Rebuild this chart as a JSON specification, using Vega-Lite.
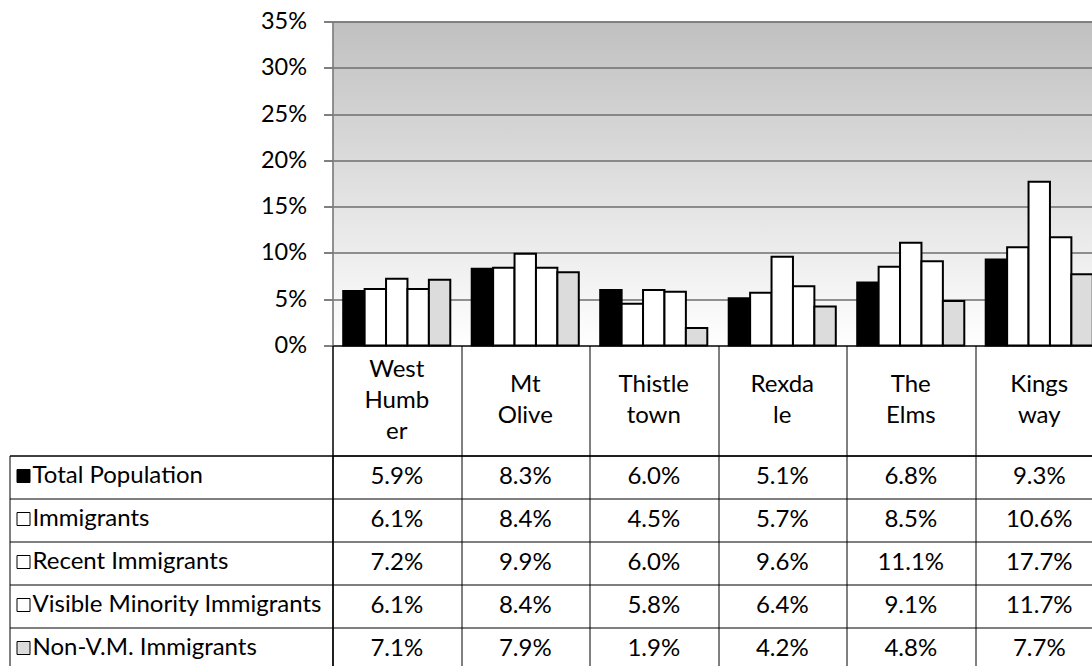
{
  "$schema": "https://vega.github.io/schema/vega-lite/v6.json",
  "padding": {"left": 8.5, "top": 8.5, "right": 0, "bottom": 0},
  "autosize": {"type": "pad"},
  "columns": 2,
  "spacing": 0,
  "bounds": "flush",
  "config": {
    "font": "Lato",
    "view": {"stroke": null},
    "text": {"font": "Lato", "fontSize": 24, "color": "black"}
  },
  "datasets": {
    "areas": [
      {"area": "West Humber", "label": ["West", "Humb", "er"]},
      {"area": "Mt Olive", "label": ["Mt", "Olive"]},
      {"area": "Thistletown", "label": ["Thistle", "town"]},
      {"area": "Rexdale", "label": ["Rexda", "le"]},
      {"area": "The Elms", "label": ["The", "Elms"]},
      {"area": "Kingsway", "label": ["Kings", "way"]}
    ],
    "values": [
      {"area": "West Humber", "series": "Total Population", "value": 0.059},
      {"area": "West Humber", "series": "Immigrants", "value": 0.061},
      {"area": "West Humber", "series": "Recent Immigrants", "value": 0.072},
      {"area": "West Humber", "series": "Visible Minority Immigrants", "value": 0.061},
      {"area": "West Humber", "series": "Non-V.M. Immigrants", "value": 0.071},
      {"area": "Mt Olive", "series": "Total Population", "value": 0.083},
      {"area": "Mt Olive", "series": "Immigrants", "value": 0.084},
      {"area": "Mt Olive", "series": "Recent Immigrants", "value": 0.099},
      {"area": "Mt Olive", "series": "Visible Minority Immigrants", "value": 0.084},
      {"area": "Mt Olive", "series": "Non-V.M. Immigrants", "value": 0.079},
      {"area": "Thistletown", "series": "Total Population", "value": 0.060},
      {"area": "Thistletown", "series": "Immigrants", "value": 0.045},
      {"area": "Thistletown", "series": "Recent Immigrants", "value": 0.060},
      {"area": "Thistletown", "series": "Visible Minority Immigrants", "value": 0.058},
      {"area": "Thistletown", "series": "Non-V.M. Immigrants", "value": 0.019},
      {"area": "Rexdale", "series": "Total Population", "value": 0.051},
      {"area": "Rexdale", "series": "Immigrants", "value": 0.057},
      {"area": "Rexdale", "series": "Recent Immigrants", "value": 0.096},
      {"area": "Rexdale", "series": "Visible Minority Immigrants", "value": 0.064},
      {"area": "Rexdale", "series": "Non-V.M. Immigrants", "value": 0.042},
      {"area": "The Elms", "series": "Total Population", "value": 0.068},
      {"area": "The Elms", "series": "Immigrants", "value": 0.085},
      {"area": "The Elms", "series": "Recent Immigrants", "value": 0.111},
      {"area": "The Elms", "series": "Visible Minority Immigrants", "value": 0.091},
      {"area": "The Elms", "series": "Non-V.M. Immigrants", "value": 0.048},
      {"area": "Kingsway", "series": "Total Population", "value": 0.093},
      {"area": "Kingsway", "series": "Immigrants", "value": 0.106},
      {"area": "Kingsway", "series": "Recent Immigrants", "value": 0.177},
      {"area": "Kingsway", "series": "Visible Minority Immigrants", "value": 0.117},
      {"area": "Kingsway", "series": "Non-V.M. Immigrants", "value": 0.077}
    ]
  },
  "concat": [
    {
      "width": 323, "height": 324,
      "data": {"values": [{}]},
      "mark": {"type": "text"},
      "encoding": {"text": {"value": ""}}
    },
    {
      "width": 771, "height": 324,
      "data": {"name": "values"},
      "view": {
        "stroke": "#8c8c8c",
        "fill": {"gradient": "linear", "x1": 0, "y1": 0, "x2": 0, "y2": 1,
          "stops": [{"offset": 0, "color": "#c0c0c0"}, {"offset": 1, "color": "#ffffff"}]}
      },
      "mark": {"type": "bar", "stroke": "black", "strokeWidth": 2},
      "encoding": {
        "x": {"field": "area", "type": "nominal",
          "sort": ["West Humber", "Mt Olive", "Thistletown", "Rexdale", "The Elms", "Kingsway"],
          "scale": {"paddingInner": 0, "paddingOuter": 0}, "axis": null},
        "xOffset": {"field": "series", "type": "nominal",
          "sort": ["Total Population", "Immigrants", "Recent Immigrants", "Visible Minority Immigrants", "Non-V.M. Immigrants"],
          "scale": {"paddingInner": 0, "paddingOuter": 0.5}},
        "y": {"field": "value", "type": "quantitative",
          "scale": {"domain": [0, 0.35], "nice": false},
          "axis": {"values": [0, 0.05, 0.1, 0.15, 0.2, 0.25, 0.3, 0.35], "format": ".0%",
            "title": null, "labelFontSize": 23.5, "labelFont": "Lato", "labelColor": "black",
            "tickSize": 9, "tickColor": "black", "labelPadding": 17,
            "grid": true, "gridColor": "#6e6e6e", "gridWidth": 1.5,
            "domainColor": "#808080", "domainWidth": 1.5}},
        "color": {"field": "series", "type": "nominal",
          "sort": ["Total Population", "Immigrants", "Recent Immigrants", "Visible Minority Immigrants", "Non-V.M. Immigrants"],
          "scale": {"domain": ["Total Population", "Immigrants", "Recent Immigrants", "Visible Minority Immigrants", "Non-V.M. Immigrants"],
            "range": ["#000000", "#ffffff", "#ffffff", "#ffffff", "#dcdcdc"]},
          "legend": {"orient": "none", "legendX": 2, "legendY": 442.5, "title": null,
            "direction": "vertical", "symbolType": "square", "symbolSize": 169,
            "symbolStrokeColor": "black", "symbolStrokeWidth": 1,
            "labelFont": "Lato", "labelFontSize": 24, "labelColor": "black",
            "labelOffset": -3, "rowPadding": 19, "padding": 0, "labelLimit": 400}}
      }
    },
    {
      "width": 323, "height": 110,
      "data": {"values": [{}]},
      "mark": {"type": "text"},
      "encoding": {"text": {"value": ""}}
    },
    {
      "width": 771, "height": 110,
      "data": {"name": "areas"},
      "view": {"stroke": "black", "strokeWidth": 1},
      "mark": {"type": "text", "lineHeight": 31, "baseline": "middle", "fontSize": 24,
        "dy": {"expr": "-15.5 * (length(datum.label) - 1)"}},
      "encoding": {
        "x": {"field": "area", "type": "nominal",
          "sort": ["West Humber", "Mt Olive", "Thistletown", "Rexdale", "The Elms", "Kingsway"],
          "scale": {"paddingInner": 0, "paddingOuter": 0},
          "axis": {"tickBand": "extent", "grid": true, "gridColor": "black", "gridWidth": 1, "labels": false, "ticks": false, "domain": false, "title": null}},
        "text": {"field": "label"}
      }
    },
    {
      "width": 323, "height": 215,
      "data": {"name": "values"},
      "view": {"stroke": "black", "strokeWidth": 1},
      "mark": {"type": "text"},
      "encoding": {
        "y": {"field": "series", "type": "nominal",
          "sort": ["Total Population", "Immigrants", "Recent Immigrants", "Visible Minority Immigrants", "Non-V.M. Immigrants"],
          "scale": {"paddingInner": 0, "paddingOuter": 0},
          "axis": {"tickBand": "extent", "grid": true, "gridColor": "black", "gridWidth": 1, "labels": false, "ticks": false, "domain": false, "title": null}},
        "text": {"value": ""}
      }
    },
    {
      "width": 771, "height": 215,
      "data": {"name": "values"},
      "view": {"stroke": "black", "strokeWidth": 1},
      "mark": {"type": "text", "baseline": "middle", "fontSize": 24},
      "encoding": {
        "x": {"field": "area", "type": "nominal",
          "sort": ["West Humber", "Mt Olive", "Thistletown", "Rexdale", "The Elms", "Kingsway"],
          "scale": {"paddingInner": 0, "paddingOuter": 0},
          "axis": {"tickBand": "extent", "grid": true, "gridColor": "black", "gridWidth": 1, "labels": false, "ticks": false, "domain": false, "title": null}},
        "y": {"field": "series", "type": "nominal",
          "sort": ["Total Population", "Immigrants", "Recent Immigrants", "Visible Minority Immigrants", "Non-V.M. Immigrants"],
          "scale": {"paddingInner": 0, "paddingOuter": 0},
          "axis": {"tickBand": "extent", "grid": true, "gridColor": "black", "gridWidth": 1, "labels": false, "ticks": false, "domain": false, "title": null}},
        "text": {"field": "value", "type": "quantitative", "format": ".1%"}
      }
    }
  ]
}
